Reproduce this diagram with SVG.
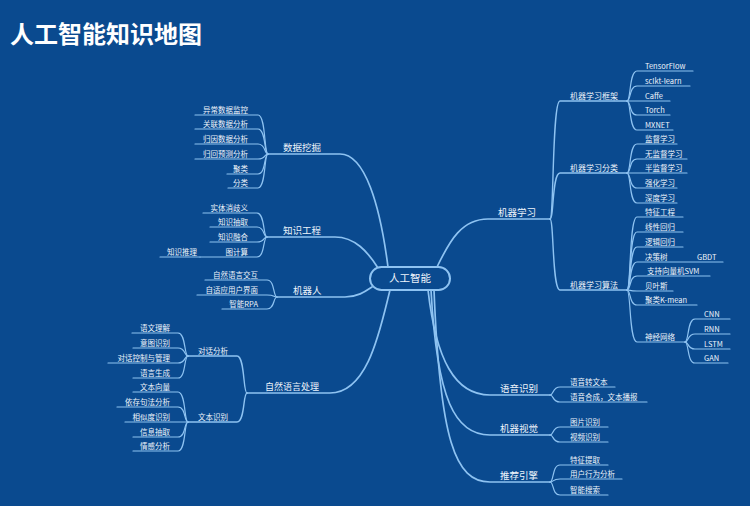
<svg xmlns="http://www.w3.org/2000/svg" width="750" height="506" viewBox="0 0 750 506">
<style>
text{font-family:"Noto Sans CJK SC","Liberation Sans",sans-serif;fill:#eef4fb}
.title{font-size:24px;font-weight:bold;fill:#ffffff}
.c{font-size:10.5px;text-anchor:middle}
.t1{font-size:9.5px}
.t2{font-size:8px}
.t3{font-size:7.5px}
.e{text-anchor:end}
#connectors path{fill:none;stroke:#8ec3f2;stroke-linecap:round}
.l0{stroke-width:1.7}
.l1{stroke-width:1.4}
.l2{stroke-width:1.2}
</style>
<rect width="750" height="506" fill="#0a4a8f"/>
<text class="title" x="10" y="43">人工智能知识地图</text>
<g id="connectors">
<g class="l0">
<path d="M268 154 H340 C365 154 380 205 388 267"/>
<path d="M267 237 H335 C355 237 368 252 378 268"/>
<path d="M277 297 H345 C358 297 366 291 372 287"/>
<path d="M247 393 H330 C368 393 380 330 390 290"/>
<path d="M437 267 C450 240 462 219 488 219 H550"/>
<path d="M428 290 C436 360 455 395 490 395 H550"/>
<path d="M431 290 C437 400 455 435 490 435 H550"/>
<path d="M434 290 C440 440 455 482 490 482 H550"/>
</g>
<g class="l1">
<path d="M550 219 C554 219 552 101 560 101 H627"/>
<path d="M550 219 C554 219 552 173 560 173 H627"/>
<path d="M550 219 C554 219 552 290 560 290 H627"/>
<path d="M188 356 H237 C245 356 243 393 247 393"/>
<path d="M188 422 H237 C245 422 243 393 247 393"/>
</g>
<g class="l2">
<path d="M195 115 H258 C266 115 264 154 268 154"/>
<path d="M195 129 H258 C266 129 264 154 268 154"/>
<path d="M195 144 H258 C266 144 264 154 268 154"/>
<path d="M195 159 H258 C266 159 264 154 268 154"/>
<path d="M227 174 H258 C266 174 264 154 268 154"/>
<path d="M228 188 H258 C266 188 264 154 268 154"/>
<path d="M203 213 H257 C265 213 263 237 267 237"/>
<path d="M210 227 H257 C265 227 263 237 267 237"/>
<path d="M210 242 H257 C265 242 263 237 267 237"/>
<path d="M200 257 H257 C265 257 263 237 267 237"/>
<path d="M160 257 H200"/>
<path d="M205 280 H267 C275 280 273 297 277 297"/>
<path d="M197 295 H267 C275 295 273 297 277 297"/>
<path d="M222 309 H267 C275 309 273 297 277 297"/>
<path d="M132 333 H178 C186 333 184 356 188 356"/>
<path d="M133 348 H178 C186 348 184 356 188 356"/>
<path d="M108 363 H178 C186 363 184 356 188 356"/>
<path d="M133 378 H178 C186 378 184 356 188 356"/>
<path d="M133 392 H178 C186 392 184 422 188 422"/>
<path d="M117 407 H178 C186 407 184 422 188 422"/>
<path d="M125 422 H188"/>
<path d="M133 437 H178 C186 437 184 422 188 422"/>
<path d="M133 451 H178 C186 451 184 422 188 422"/>
<path d="M627 101 C631 101 629 71 637 71 H693"/>
<path d="M627 101 C631 101 629 86 637 86 H690"/>
<path d="M627 101 H670"/>
<path d="M627 101 C631 101 629 115 637 115 H670"/>
<path d="M627 101 C631 101 629 130 637 130 H673"/>
<path d="M627 173 C631 173 629 144 637 144 H677"/>
<path d="M627 173 C631 173 629 159 637 159 H687"/>
<path d="M627 173 H687"/>
<path d="M627 173 C631 173 629 188 637 188 H677"/>
<path d="M627 173 C631 173 629 203 637 203 H677"/>
<path d="M627 290 C631 290 629 217 637 217 H683"/>
<path d="M627 290 C631 290 629 232 637 232 H683"/>
<path d="M627 290 C631 290 629 247 637 247 H683"/>
<path d="M627 290 C631 290 629 262 637 262 H723"/>
<path d="M627 290 C631 290 629 276 637 276 H710"/>
<path d="M627 290 C631 290 629 291 637 291 H673"/>
<path d="M627 290 C631 290 629 305 637 305 H697"/>
<path d="M627 290 C631 290 629 342 637 342 H685"/>
<path d="M685 342 C689 342 687 319 695 319 H730"/>
<path d="M685 342 C689 342 687 334 695 334 H730"/>
<path d="M685 342 C689 342 687 349 695 349 H730"/>
<path d="M685 342 C689 342 687 363 695 363 H728"/>
<path d="M550 395 C554 395 552 387 560 387 H615"/>
<path d="M550 395 C554 395 552 402 560 402 H647"/>
<path d="M550 435 C554 435 552 427 560 427 H608"/>
<path d="M550 435 C554 435 552 442 560 442 H608"/>
<path d="M550 482 C554 482 552 465 560 465 H608"/>
<path d="M550 482 C554 482 552 479 560 479 H622"/>
<path d="M550 482 C554 482 552 495 560 495 H608"/>
</g>
</g>
<g id="root">
<rect x="370" y="267" width="80" height="23" rx="11.5" fill="#0a4a8f" stroke="#8ec3f2" stroke-width="2"/>
<text class="c" x="410" y="282">人工智能</text>
</g>
<g id="n-data"><text class="t1" x="283" y="150.5">数据挖掘</text></g>
<g id="n-data-1"><text class="t3 e" x="248" y="113">异常数据监控</text></g>
<g id="n-data-2"><text class="t3 e" x="248" y="127">关联数据分析</text></g>
<g id="n-data-3"><text class="t3 e" x="248" y="142">归因数据分析</text></g>
<g id="n-data-4"><text class="t3 e" x="248" y="157">归回预测分析</text></g>
<g id="n-data-5"><text class="t3 e" x="248" y="172">聚类</text></g>
<g id="n-data-6"><text class="t3 e" x="248" y="186">分类</text></g>
<g id="n-ke"><text class="t1" x="283" y="233.5">知识工程</text></g>
<g id="n-ke-1"><text class="t3 e" x="248" y="211">实体消歧义</text></g>
<g id="n-ke-2"><text class="t3 e" x="248" y="225">知识抽取</text></g>
<g id="n-ke-3"><text class="t3 e" x="248" y="240">知识融合</text></g>
<g id="n-ke-4"><text class="t3 e" x="248" y="255">图计算</text></g>
<g id="n-ke-4-1"><text class="t3 e" x="197" y="255">知识推理</text></g>
<g id="n-robot"><text class="t1" x="293" y="293.5">机器人</text></g>
<g id="n-robot-1"><text class="t3 e" x="258" y="278">自然语言交互</text></g>
<g id="n-robot-2"><text class="t3 e" x="258" y="293">自适应用户界面</text></g>
<g id="n-robot-3"><text class="t3 e" x="258" y="307">智能RPA</text></g>
<g id="n-nlp"><text class="t1" x="265" y="389.5" style="font-size:9px">自然语言处理</text></g>
<g id="n-dlg"><text class="t3" x="198" y="353.5">对话分析</text></g>
<g id="n-dlg-1"><text class="t3 e" x="170" y="331">语文理解</text></g>
<g id="n-dlg-2"><text class="t3 e" x="170" y="346">意图识别</text></g>
<g id="n-dlg-3"><text class="t3 e" x="170" y="361">对话控制与管理</text></g>
<g id="n-dlg-4"><text class="t3 e" x="170" y="376">语言生成</text></g>
<g id="n-txt"><text class="t3" x="198" y="419.5">文本识别</text></g>
<g id="n-txt-1"><text class="t3 e" x="170" y="390">文本向量</text></g>
<g id="n-txt-2"><text class="t3 e" x="170" y="405">依存句法分析</text></g>
<g id="n-txt-3"><text class="t3 e" x="170" y="420">相似度识别</text></g>
<g id="n-txt-4"><text class="t3 e" x="170" y="435">信息抽取</text></g>
<g id="n-txt-5"><text class="t3 e" x="170" y="449">情感分析</text></g>
<g id="n-ml"><text class="t1" x="498" y="215.5">机器学习</text></g>
<g id="n-fw"><text class="t2" x="570" y="98.5">机器学习框架</text></g>
<g id="n-fw-1"><text class="t3" x="645" y="69">TensorFlow</text></g>
<g id="n-fw-2"><text class="t3" x="645" y="84">sclkt-learn</text></g>
<g id="n-fw-3"><text class="t3" x="645" y="99">Caffe</text></g>
<g id="n-fw-4"><text class="t3" x="645" y="113">Torch</text></g>
<g id="n-fw-5"><text class="t3" x="645" y="128">MXNET</text></g>
<g id="n-cls"><text class="t2" x="570" y="170.5">机器学习分类</text></g>
<g id="n-cls-1"><text class="t3" x="645" y="142">监督学习</text></g>
<g id="n-cls-2"><text class="t3" x="645" y="157">无监督学习</text></g>
<g id="n-cls-3"><text class="t3" x="645" y="171">半监督学习</text></g>
<g id="n-cls-4"><text class="t3" x="645" y="186">强化学习</text></g>
<g id="n-cls-5"><text class="t3" x="645" y="201">深度学习</text></g>
<g id="n-alg"><text class="t2" x="570" y="287.5">机器学习算法</text></g>
<g id="n-alg-1"><text class="t3" x="645" y="215">特征工程</text></g>
<g id="n-alg-2"><text class="t3" x="645" y="230">线性回归</text></g>
<g id="n-alg-3"><text class="t3" x="645" y="245">逻辑回归</text></g>
<g id="n-alg-4"><text class="t3" x="645" y="260">决策树</text></g>
<g id="n-alg-4-1"><text class="t3" x="697" y="260">GBDT</text></g>
<g id="n-alg-5"><text class="t3" x="647" y="274">支持向量机SVM</text></g>
<g id="n-alg-6"><text class="t3" x="645" y="289">贝叶斯</text></g>
<g id="n-alg-7"><text class="t3" x="645" y="303">聚类K-mean</text></g>
<g id="n-alg-8"><text class="t3" x="645" y="340">神经网络</text></g>
<g id="n-nn-1"><text class="t3" x="704" y="317">CNN</text></g>
<g id="n-nn-2"><text class="t3" x="704" y="332">RNN</text></g>
<g id="n-nn-3"><text class="t3" x="704" y="347">LSTM</text></g>
<g id="n-nn-4"><text class="t3" x="704" y="361">GAN</text></g>
<g id="n-asr"><text class="t1" x="500" y="391.5">语音识别</text></g>
<g id="n-asr-1"><text class="t3" x="570" y="385">语音转文本</text></g>
<g id="n-asr-2"><text class="t3" x="570" y="400">语音合成，文本播报</text></g>
<g id="n-cv"><text class="t1" x="500" y="431.5">机器视觉</text></g>
<g id="n-cv-1"><text class="t3" x="570" y="425">图片识别</text></g>
<g id="n-cv-2"><text class="t3" x="570" y="440">视频识别</text></g>
<g id="n-rec"><text class="t1" x="500" y="478.5">推荐引擎</text></g>
<g id="n-rec-1"><text class="t3" x="570" y="463">特征提取</text></g>
<g id="n-rec-2"><text class="t3" x="570" y="477">用户行为分析</text></g>
<g id="n-rec-3"><text class="t3" x="570" y="493">智能搜索</text></g>
</svg>
